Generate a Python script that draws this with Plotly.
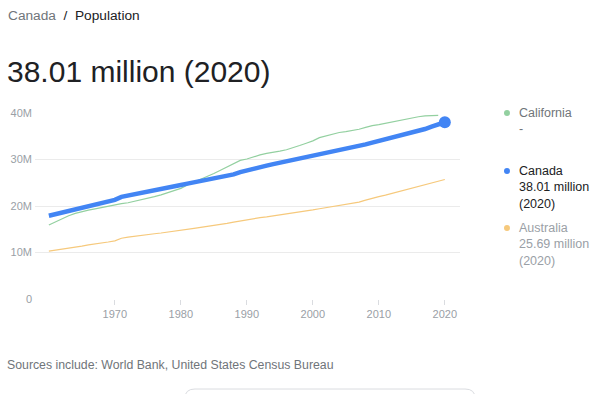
import plotly.graph_objects as go

years = list(range(1960, 2021))

canada = [17.91, 18.27, 18.61, 18.96, 19.33, 19.68, 20.05, 20.41, 20.74, 21.03,
          21.32, 21.96, 22.22, 22.49, 22.81, 23.14, 23.45, 23.73, 23.96, 24.20,
          24.52, 24.82, 25.12, 25.37, 25.61, 25.84, 26.10, 26.45, 26.79, 27.28,
          27.69, 28.04, 28.37, 28.68, 29.00, 29.30, 29.61, 29.91, 30.16, 30.40,
          30.69, 31.02, 31.36, 31.64, 31.94, 32.24, 32.57, 32.89, 33.25, 33.63,
          34.00, 34.34, 34.71, 35.08, 35.44, 35.70, 36.11, 36.55, 37.07, 37.59,
          38.01]

california_years = list(range(1960, 2020))
california = [15.9, 16.6, 17.3, 17.9, 18.4, 18.8, 19.1, 19.4, 19.7, 20.0,
              20.2, 20.5, 20.7, 21.0, 21.3, 21.6, 22.0, 22.4, 22.9, 23.4,
              23.8, 24.5, 25.1, 25.7, 26.3, 27.0, 27.7, 28.4, 29.2, 29.8,
              30.1, 30.6, 31.0, 31.3, 31.5, 31.8, 32.1, 32.5, 33.0, 33.5,
              34.0, 34.7, 35.1, 35.5, 35.8, 36.0, 36.2, 36.5, 36.9, 37.3,
              37.5, 37.8, 38.1, 38.4, 38.7, 39.0, 39.2, 39.4, 39.5, 39.5]

australia = [10.28, 10.48, 10.74, 10.95, 11.17, 11.39, 11.65, 11.80, 12.01, 12.26,
             12.51, 13.07, 13.30, 13.51, 13.72, 13.89, 14.03, 14.19, 14.36, 14.52,
             14.69, 14.92, 15.18, 15.39, 15.58, 15.79, 16.02, 16.26, 16.53, 16.81,
             17.07, 17.28, 17.50, 17.67, 17.86, 18.07, 18.31, 18.52, 18.71, 18.93,
             19.15, 19.41, 19.65, 19.90, 20.13, 20.39, 20.70, 20.83, 21.25, 21.69,
             22.03, 22.34, 22.73, 23.13, 23.48, 23.82, 24.19, 24.60, 24.98, 25.37,
             25.69]

x_tick_vals = [1970, 1980, 1990, 2000, 2010, 2020]
x_tick_text = ["1970", "1980", "1990", "2000", "2010", "2020"]
y_tick_vals = [0, 10, 20, 30, 40]
y_tick_text = ["0", "10M", "20M", "30M", "40M"]

legend_names = ["California", "Canada", "Australia"]
legend_values = ["-", "38.01 million<br>(2020)", "25.69 million<br>(2020)"]

GREEN = "#93d0a0"
BLUE = "#4285f4"
ORANGE = "#f6c97c"
FONT = "Arial, 'Liberation Sans', sans-serif"

W, H = 602, 394
L, R, T, B = 35, 142, 113, 95
PW = W - L - R
PH = H - T - B


def px(xp):
    return (xp - L) / PW


def py(yp):
    return (H - B - yp) / PH


fig = go.Figure()
fig.add_trace(go.Scatter(x=california_years, y=california, mode="lines",
                         line=dict(color=GREEN, width=1.2), hoverinfo="skip"))
fig.add_trace(go.Scatter(x=years, y=australia, mode="lines",
                         line=dict(color=ORANGE, width=1.2), hoverinfo="skip"))
fig.add_trace(go.Scatter(x=years, y=canada, mode="lines",
                         line=dict(color=BLUE, width=4.5), hoverinfo="skip"))
fig.add_trace(go.Scatter(x=[years[-1]], y=[canada[-1]], mode="markers",
                         marker=dict(color=BLUE, size=12), hoverinfo="skip"))

annotations = [
    dict(x=px(6), y=py(15), xref="paper", yref="paper", xanchor="left", yanchor="middle",
         showarrow=False, align="left",
         text="<span style='color:#70757a'>Canada</span>"
              "<span style='color:#202124'>  /  Population</span>",
         font=dict(size=13.7, family=FONT)),
    dict(x=px(5), y=py(71), xref="paper", yref="paper", xanchor="left", yanchor="middle",
         showarrow=False, text="38.01 million (2020)",
         font=dict(size=30, family=FONT, color="#202124")),
    dict(x=px(5), y=py(365), xref="paper", yref="paper", xanchor="left", yanchor="middle",
         showarrow=False, text="Sources include: World Bank, United States Census Bureau",
         font=dict(size=12.3, family=FONT, color="#70757a")),
]

legend_y = [113, 171, 228]
legend_colors = [GREEN, BLUE, ORANGE]
legend_text_colors = ["#70757a", "#202124", "#9aa0a6"]
shapes = []
for name, val, yy, c, tc in zip(legend_names, legend_values, legend_y, legend_colors, legend_text_colors):
    shapes.append(dict(type="circle", xref="paper", yref="paper",
                       x0=px(504), x1=px(510), y0=py(yy + 3), y1=py(yy - 3),
                       fillcolor=c, line=dict(width=0)))
    annotations.append(dict(x=px(517), y=py(yy - 9), xref="paper", yref="paper",
                            xanchor="left", yanchor="top", showarrow=False, align="left",
                            text=name + "<br>" + val,
                            font=dict(size=12.5, family=FONT, color=tc)))

# partially visible button at the bottom
shapes.append(dict(type="path", xref="paper", yref="paper",
                   path=f"M {px(185)},{py(398)} "
                        f"Q {px(185)},{py(389)} {px(195)},{py(389)} "
                        f"L {px(465)},{py(389)} Q {px(475)},{py(389)} {px(475)},{py(398)}",
                   line=dict(color="#dadce0", width=1)))

fig.update_layout(
    width=W, height=H,
    margin=dict(l=L, r=R, t=T, b=B),
    paper_bgcolor="white", plot_bgcolor="white",
    showlegend=False,
    font=dict(family=FONT),
    annotations=annotations,
    shapes=shapes,
    xaxis=dict(range=[1957.9, 2022.3], tickvals=x_tick_vals, ticktext=x_tick_text,
               showgrid=False, zeroline=False, showline=False,
               ticks="outside", ticklen=5, tickcolor="#dadce0",
               tickfont=dict(size=11, color="#9aa0a6", family=FONT)),
    yaxis=dict(range=[0, 40], tickvals=y_tick_vals, ticktext=y_tick_text,
               showgrid=True, gridcolor="#ebebeb", gridwidth=1, zeroline=False,
               showline=False, ticks="", ticklabelstandoff=2,
               tickfont=dict(size=11, color="#9aa0a6", family=FONT)),
)

fig.write_html("out.html", config={"displayModeBar": False},
               post_script="document.body.style.margin='0';document.body.style.overflow='hidden';")
